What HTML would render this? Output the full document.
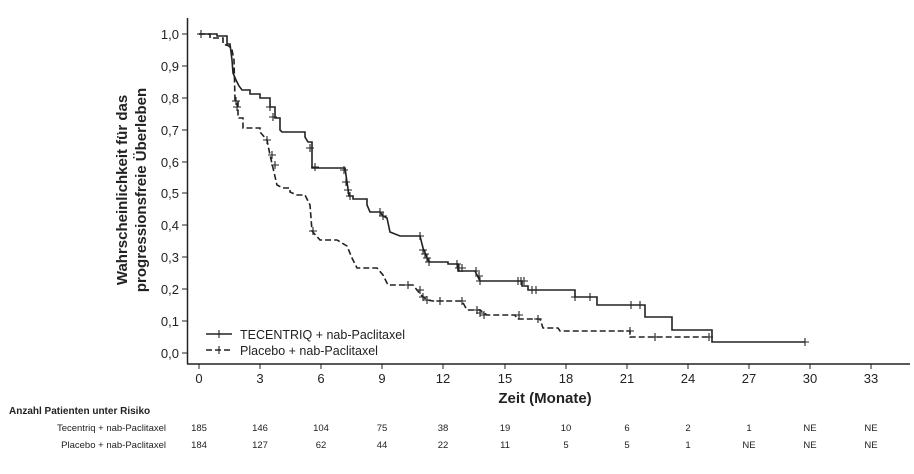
<!DOCTYPE html><html><head><style>body{margin:0;background:#fff}svg text{font-family:"Liberation Sans",Arial,sans-serif;fill:#222}</style></head><body>
<svg width="914" height="469" viewBox="0 0 914 469" xmlns="http://www.w3.org/2000/svg">
<g stroke="#222" stroke-width="1.5" fill="none">
<line x1="187.5" y1="18" x2="187.5" y2="364"/>
<line x1="187" y1="364" x2="910" y2="364"/>
<g stroke-width="1">
<line x1="182" y1="34" x2="187" y2="34"/><line x1="182" y1="66" x2="187" y2="66"/><line x1="182" y1="98" x2="187" y2="98"/><line x1="182" y1="130" x2="187" y2="130"/><line x1="182" y1="162" x2="187" y2="162"/><line x1="182" y1="193" x2="187" y2="193"/><line x1="182" y1="225" x2="187" y2="225"/><line x1="182" y1="257" x2="187" y2="257"/><line x1="182" y1="289" x2="187" y2="289"/><line x1="182" y1="321" x2="187" y2="321"/><line x1="182" y1="353" x2="187" y2="353"/>
<line x1="199" y1="364" x2="199" y2="369"/><line x1="260" y1="364" x2="260" y2="369"/><line x1="321" y1="364" x2="321" y2="369"/><line x1="382" y1="364" x2="382" y2="369"/><line x1="443" y1="364" x2="443" y2="369"/><line x1="505" y1="364" x2="505" y2="369"/><line x1="566" y1="364" x2="566" y2="369"/><line x1="627" y1="364" x2="627" y2="369"/><line x1="688" y1="364" x2="688" y2="369"/><line x1="749" y1="364" x2="749" y2="369"/><line x1="810" y1="364" x2="810" y2="369"/><line x1="871" y1="364" x2="871" y2="369"/>
</g>
<polyline stroke-width="1.6" points="199,34 217,34 217,36 227,36 227,44 230,44 232,60 233,73 236,80 239,86 242,90 250,90 250,94 260,94 260,98 270,98 270,107 275,107 275,118 280,118 280,130 282,132 305,132 305,137 308,142 312,142 312,168 317,168 345,168 347,182 349,196 353,196 353,199 367,199 367,205 370,212 380,212 383,216 387,218 390,232 400,236 420,236 423,248 428,260 430,262 448,262 448,264 458,264 458,271 475,271 480,281 522,281 522,286 528,286 528,290 575,290 575,297 597,297 597,305 645,305 645,317 672,317 672,330 712,330 712,342 805,342"/>
<polyline stroke-width="1.6" stroke-dasharray="6,3" points="199,34 210,34 210,38 223,38 223,44 229,46 232,50 234,60 235,100 238,100 238,118 243,118 243,128 260,128 260,132 267,140 270,155 273,168 277,185 283,188 290,188 290,192 297,195 305,195 310,205 312,231 320,240 337,240 347,246 352,258 357,268 377,268 383,275 388,285 413,285 417,290 422,296 427,300 433,301 462,301 467,310 480,310 487,315 515,315 517,319 540,319 543,328 558,328 560,331 630,331 630,337 710,337"/>
<path stroke-width="1.1" d="M197,34h8M201,30v8M266,107h8M270,103v8M269,117h8M273,113v8M306,148h8M310,144v8M311,167h8M315,163v8M340,170h8M344,166v8M342,182h8M346,178v8M344,190h8M348,186v8M346,196h8M350,192v8M376,212h8M380,208v8M379,216h8M383,212v8M416,236h8M420,232v8M419,250h8M423,246v8M421,254h8M425,250v8M423,258h8M427,254v8M425,262h8M429,258v8M453,264h8M457,260v8M455,268h8M459,264v8M458,268h8M462,264v8M472,271h8M476,267v8M475,276h8M479,272v8M476,281h8M480,277v8M514,281h8M518,277v8M517,281h8M521,277v8M520,281h8M524,277v8M528,290h8M532,286v8M532,290h8M536,286v8M571,297h8M575,293v8M586,297h8M590,293v8M627,305h8M631,301v8M636,305h8M640,301v8M801,342h8M805,338v8
M232,101h8M236,97v8M233,107h8M237,103v8M263,140h8M267,136v8M268,155h8M272,151v8M271,165h8M275,161v8M309,231h8M313,227v8M404,285h8M408,281v8M416,290h8M420,286v8M419,297h8M423,293v8M423,300h8M427,296v8M436,301h8M440,297v8M458,301h8M462,297v8M473,310h8M477,306v8M476,313h8M480,309v8M480,315h8M484,311v8M515,315h8M519,311v8M534,319h8M538,315v8M626,331h8M630,327v8M651,337h8M655,333v8M705,337h8M709,333v8"/>
<line x1="206" y1="334" x2="232" y2="334" stroke-width="1.6"/><line x1="219" y1="330" x2="219" y2="338" stroke-width="1.1"/>
<line x1="206" y1="350" x2="232" y2="350" stroke-width="1.6" stroke-dasharray="6,3"/><line x1="219" y1="346" x2="219" y2="354" stroke-width="1.1"/>
</g>
<g font-size="13" text-anchor="end">
<text x="179" y="39">1,0</text><text x="179" y="71">0,9</text><text x="179" y="103">0,8</text><text x="179" y="135">0,7</text><text x="179" y="167">0,6</text><text x="179" y="198">0,5</text><text x="179" y="230">0,4</text><text x="179" y="262">0,3</text><text x="179" y="294">0,2</text><text x="179" y="326">0,1</text><text x="179" y="358">0,0</text>
</g>
<g font-size="13" text-anchor="middle">
<text x="199" y="383">0</text><text x="260" y="383">3</text><text x="321" y="383">6</text><text x="382" y="383">9</text><text x="443" y="383">12</text><text x="505" y="383">15</text><text x="566" y="383">18</text><text x="627" y="383">21</text><text x="688" y="383">24</text><text x="749" y="383">27</text><text x="810" y="383">30</text><text x="871" y="383">33</text>
</g>
<text x="545" y="403" font-size="15" font-weight="bold" text-anchor="middle">Zeit  (Monate)</text>
<text transform="translate(127,190) rotate(-90)" font-size="15" font-weight="bold" text-anchor="middle">Wahrscheinlichkeit  für das</text>
<text transform="translate(146,190) rotate(-90)" font-size="15" font-weight="bold" text-anchor="middle">progressionsfreie  Überleben</text>
<text x="240" y="339" font-size="12.5">TECENTRIQ  + nab-Paclitaxel</text>
<text x="240" y="355" font-size="12.5">Placebo + nab-Paclitaxel</text>
<text x="9" y="414" font-size="10" font-weight="bold">Anzahl Patienten unter Risiko</text>
<text x="166" y="431" font-size="9.5" text-anchor="end">Tecentriq + nab-Paclitaxel</text>
<text x="166" y="448" font-size="9.5" text-anchor="end">Placebo + nab-Paclitaxel</text>
<g font-size="9.5" text-anchor="middle">
<text x="199" y="431">185</text><text x="260" y="431">146</text><text x="321" y="431">104</text><text x="382" y="431">75</text><text x="443" y="431">38</text><text x="505" y="431">19</text><text x="566" y="431">10</text><text x="627" y="431">6</text><text x="688" y="431">2</text><text x="749" y="431">1</text><text x="810" y="431">NE</text><text x="871" y="431">NE</text>
<text x="199" y="448">184</text><text x="260" y="448">127</text><text x="321" y="448">62</text><text x="382" y="448">44</text><text x="443" y="448">22</text><text x="505" y="448">11</text><text x="566" y="448">5</text><text x="627" y="448">5</text><text x="688" y="448">1</text><text x="749" y="448">NE</text><text x="810" y="448">NE</text><text x="871" y="448">NE</text>
</g>
</svg></body></html>
